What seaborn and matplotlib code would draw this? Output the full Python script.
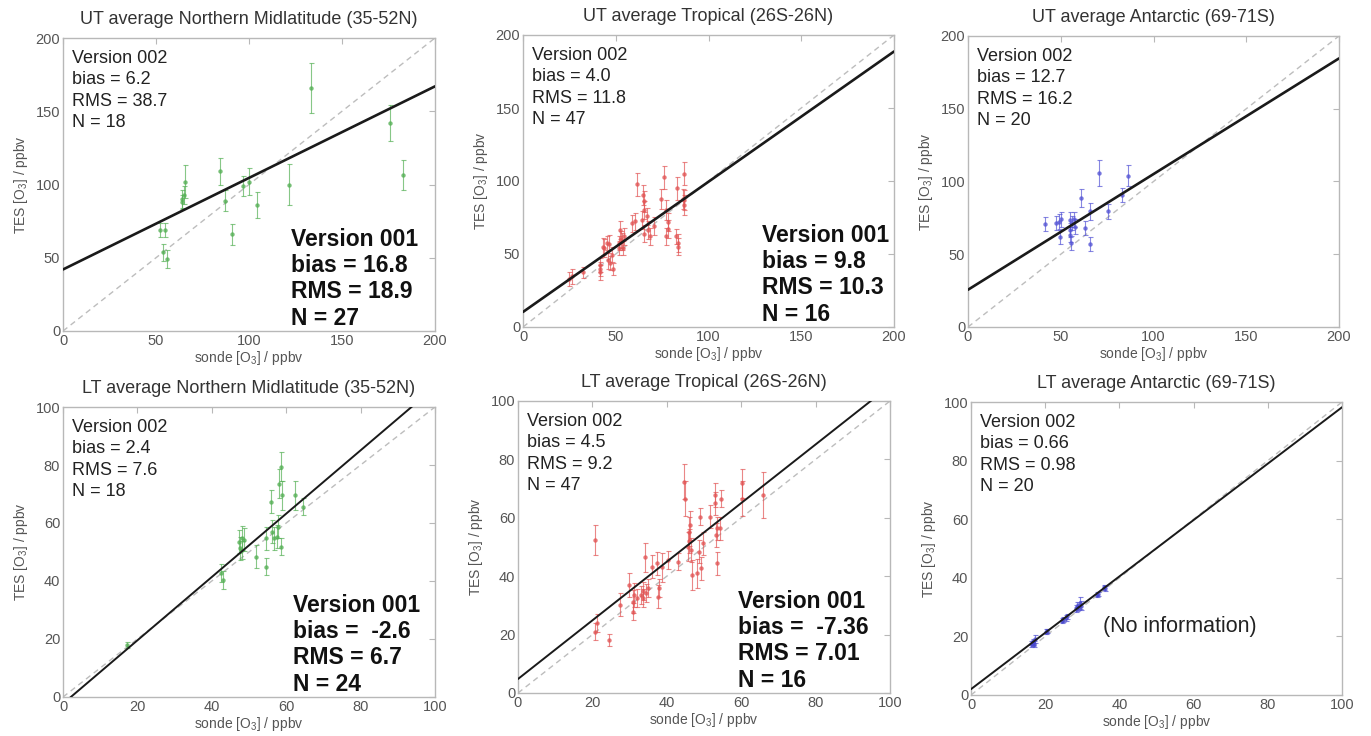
import numpy as np
import pandas as pd
import matplotlib
matplotlib.use("Agg")
import matplotlib.pyplot as plt
import seaborn as sns

sns.set_theme(style="white")
plt.rcParams['font.family'] = ['Liberation Sans', 'DejaVu Sans']
plt.rcParams['mathtext.fontset'] = 'custom'
plt.rcParams['mathtext.rm'] = 'Liberation Sans'
plt.rcParams['mathtext.it'] = 'Liberation Sans'

# ---------------- data ----------------
titles = ["UT average Northern Midlatitude (35-52N)", "UT average Tropical (26S-26N)",
          "UT average Antarctic (69-71S)", "LT average Northern Midlatitude (35-52N)",
          "LT average Tropical (26S-26N)", "LT average Antarctic (69-71S)"]

v002_text = ["Version 002\nbias = 6.2\nRMS = 38.7\nN = 18",
             "Version 002\nbias = 4.0\nRMS = 11.8\nN = 47",
             "Version 002\nbias = 12.7\nRMS = 16.2\nN = 20",
             "Version 002\nbias = 2.4\nRMS = 7.6\nN = 18",
             "Version 002\nbias = 4.5\nRMS = 9.2\nN = 47",
             "Version 002\nbias = 0.66\nRMS = 0.98\nN = 20"]

v001_text = ["Version 001\nbias = 16.8\nRMS = 18.9\nN = 27",
             "Version 001\nbias = 9.8\nRMS = 10.3\nN = 16",
             None,
             "Version 001\nbias =  -2.6\nRMS = 6.7\nN = 24",
             "Version 001\nbias =  -7.36\nRMS = 7.01\nN = 16",
             None]

# UT Northern midlatitude
ut_nm_x = [52.4, 55, 53.5, 56, 64, 64.8, 65.8, 84.3, 87, 91, 97, 100, 104.4, 121.4, 133.6, 176, 182.6, 64]
ut_nm_y = [69, 69, 53.6, 49, 90, 93, 102, 109, 89, 66, 99, 102, 86, 99.7, 165.8, 142, 106.5, 88]
ut_nm_e = [5, 5, 6, 6, 6, 6, 11, 9, 7, 7, 7, 9, 9, 14, 17, 12, 10, 5]

# UT Tropical
ut_tr_x = [24.6, 26.4, 32.6, 41.3, 41.6, 43, 43.8, 46, 47, 48.4, 46.6, 51.5, 52.4, 52.7, 53.3, 54,
           59, 61.3, 64, 64.6, 65, 65, 67, 68.3, 70.8, 74.3, 76.2, 77, 78, 78, 77, 82.3, 83.2,
           83.4, 83.6, 87, 86.5, 87, 41.3, 45.2, 48, 51.5, 54.2, 60.5, 65, 67.6, 87]
ut_tr_y = [32.8, 34.7, 37.4, 39.7, 42.6, 55, 54, 46, 43.8, 39.7, 57, 54, 66.6, 60, 58.6, 54,
           71, 97.8, 73.4, 90.5, 86, 64, 75.7, 62, 69, 87.6, 102.4, 80, 72, 67, 62, 62, 95,
           57.5, 55, 105, 87.6, 83.7, 37.4, 57.5, 49.5, 57.5, 62, 72.3, 80, 66.6, 87]
ut_tr_e = [5, 5, 4, 5, 5, 6, 6, 6, 5, 4, 6, 5, 6, 6, 6, 5,
           6, 8, 6, 7, 7, 6, 6, 6, 6, 7, 8, 7, 6, 6, 6, 5, 8,
           6, 6, 8, 7, 7, 5, 5, 5, 5, 6, 6, 6, 6, 7]

# UT Antarctic
ut_an_x = [41.7, 47.2, 49.2, 49.7, 50, 54.8, 55.1, 55.1, 55.5, 56, 57, 57.8, 60.9, 63.2, 65.5,
           65.9, 70.7, 75.4, 82.9, 86.2]
ut_an_y = [70.7, 71.4, 72.5, 61.8, 74, 66.8, 73.7, 63.4, 57.7, 71.4, 74, 69, 88.6, 68, 79.4,
           57, 105.7, 79.4, 90.8, 104]
ut_an_e = [5, 5, 5, 5, 5, 5, 5, 5, 5, 5, 5, 5, 6, 5, 6, 5, 9, 5, 5, 7]

# LT Northern midlatitude
lt_nm_x = [17.3, 42.4, 42.9, 47.4, 47.7, 48, 48.2, 48.6, 51.8, 54.7, 54.7, 55.8, 56.1, 56.7,
           57.4, 57.8, 58.1, 58.6, 58.6, 59, 62.3, 64.4]
lt_nm_y = [18, 42.7, 40.4, 53.6, 51.3, 54.8, 50.7, 54.2, 48.4, 45, 54.7, 67.3, 57, 54.7,
           55.3, 58.7, 73.6, 79.4, 51.8, 69.5, 69.6, 65.6]
lt_nm_e = [1, 3, 3, 4, 4, 4, 3, 4, 4, 3, 4, 4, 4, 4, 4, 4, 5, 5, 3, 5, 5, 3]

# LT Tropical
lt_tr_x = [20.8, 20.8, 21.3, 24.4, 27.5, 29.8, 30.8, 31, 31.2, 31.9, 33, 33.7, 34.1, 34.4, 35,
           35.9, 37.4, 37.5, 38.7, 40.4, 42.9, 44.7, 45, 45.6, 46, 46.2, 46.4, 46.9, 48.2,
           48.7, 49, 49.3, 49.8, 51.6, 52.9, 52.9, 53.1, 53.4, 53.5, 54.7, 54.4, 60.1, 60.1,
           65.9, 33.5, 38, 46]
lt_tr_y = [52.4, 21, 24, 18.2, 30.2, 37, 31.3, 27.9, 33.6, 32.5, 33.6, 32.5, 46.5, 34.2, 35.9,
           43.3, 44.4, 33, 43, 45.6, 45, 72.3, 66.6, 50.1, 55.2, 57.5, 49, 40.4, 41,
           48.4, 60.4, 42.7, 51.3, 60.4, 67.8, 65, 54.1, 56.4, 44.4, 66.6, 56.4, 71.8, 66.6,
           67.8, 35, 36, 52]
lt_tr_e = [5, 3, 3, 2, 4, 4, 4, 3, 4, 3, 3, 3, 5, 3, 3,
           4, 4, 4, 5, 3, 3, 6, 6, 5, 5, 5, 4, 5, 5,
           4, 3, 4, 4, 4, 4, 4, 4, 4, 4, 3, 4, 5, 6,
           8, 3, 3, 4]

# LT Antarctic
lt_an_x = [16.1, 16.6, 17.3, 20.1, 24.6, 25.5, 28.2, 28.7, 29.4, 33.9, 35.9, 16.8, 17.0, 25.9,
           28.9, 29.6, 36.1, 20.5, 24.9, 34.2]
lt_an_y = [17.3, 18.2, 19.1, 21.6, 25.4, 26.4, 29.6, 30.2, 31.3, 34.2, 36.7, 17.8, 17.5, 26.8,
           30.0, 30.5, 36.4, 21.8, 25.8, 34.5]
lt_an_e = [1, 1, 1.5, 0.8, 0.8, 1, 1.2, 1.5, 2, 0.8, 0.8, 1, 1, 0.8,
           1, 1.5, 0.8, 0.8, 0.8, 0.8]

fit_intercept = [42.0, 10.3, 25.6, -2.3, 4.8, 2.0]
fit_slope = [0.625, 0.892, 0.795, 1.092, 1.004, 0.962]
axis_max = [200, 200, 200, 100, 100, 100]
axis_ticks = [[0, 50, 100, 150, 200]] * 3 + [[0, 20, 40, 60, 80, 100]] * 3

point_colors = ["#55b055", "#e25555", "#5555d5", "#55b055", "#e25555", "#4a4ad0"]

panel_data = [(ut_nm_x, ut_nm_y, ut_nm_e), (ut_tr_x, ut_tr_y, ut_tr_e),
              (ut_an_x, ut_an_y, ut_an_e), (lt_nm_x, lt_nm_y, lt_nm_e),
              (lt_tr_x, lt_tr_y, lt_tr_e), (lt_an_x, lt_an_y, lt_an_e)]

# ---------------- layout (pixel boxes: left, right, top, bottom) ----------------
W, H = 1371, 736
boxes = [(63, 435, 38, 331), (523, 894, 35, 327), (968, 1339, 36, 327),
         (63, 435, 407, 697), (518, 890, 401, 693), (971, 1342, 402, 695)]
v001_x = [0.613, 0.644, None, 0.618, 0.591, None]

fig = plt.figure(figsize=(W / 100, H / 100), dpi=100)
fig.patch.set_facecolor("white")

spine_c = "#b8b8b8"
text_c = "#555555"

for i in range(6):
    l, r, t, b = boxes[i]
    ax = fig.add_axes([l / W, (H - b) / H, (r - l) / W, (b - t) / H])
    x, y, e = panel_data[i]
    df = pd.DataFrame({"sonde": x, "tes": y, "err": e})
    m = axis_max[i]
    # 1:1 line
    ax.plot([0, m], [0, m], ls=(0, (4, 3)), color="#bdbdbd", lw=1.0, zorder=1)
    # error bars
    ax.errorbar(df["sonde"], df["tes"], yerr=df["err"], fmt="none", ecolor=point_colors[i],
                elinewidth=0.8, capsize=1.8, capthick=0.8, alpha=0.7, zorder=2)
    sns.scatterplot(data=df, x="sonde", y="tes", color=point_colors[i], s=8, edgecolor=None,
                    alpha=0.8, ax=ax, zorder=3)
    # fit line
    fx = np.array([0, m], dtype=float)
    lw = 1.9 if i < 3 else 1.4
    ax.plot(fx, fit_intercept[i] + fit_slope[i] * fx, color="#1a1a1a", lw=lw, zorder=4)

    ax.set_xlim(0, m)
    ax.set_ylim(0, m)
    ax.set_xticks(axis_ticks[i])
    ax.set_yticks(axis_ticks[i])
    ax.tick_params(direction="in", length=4, width=0.8, colors=spine_c, labelcolor=text_c,
                   labelsize=10.5, top=True, right=True, pad=2)
    for s in ax.spines.values():
        s.set_color(spine_c)
        s.set_linewidth(1.0)
    ax.set_xlabel("sonde [O$_3$] / ppbv", fontsize=10, color=text_c, labelpad=1)
    ax.set_ylabel("TES [O$_3$] / ppbv", fontsize=10, color=text_c, labelpad=4)
    ax.set_title(titles[i], fontsize=13, color="#333333", pad=10)

    ax.text(0.025, 0.958, v002_text[i], transform=ax.transAxes, ha="left", va="top",
            fontsize=13, color="#222222", linespacing=1.32)
    if v001_text[i] is not None:
        ax.text(v001_x[i], 0.005, v001_text[i], transform=ax.transAxes, ha="left", va="bottom",
                fontsize=16.5, fontweight="bold", color="#111111", linespacing=1.18)

# "(No information)" note in the LT Antarctic panel
axes = fig.axes
axes[5].text(0.355, 0.235, "(No information)", transform=axes[5].transAxes, ha="left",
             va="center", fontsize=15.5, color="#222222")

fig.savefig("out.png", dpi=100, facecolor="white")
